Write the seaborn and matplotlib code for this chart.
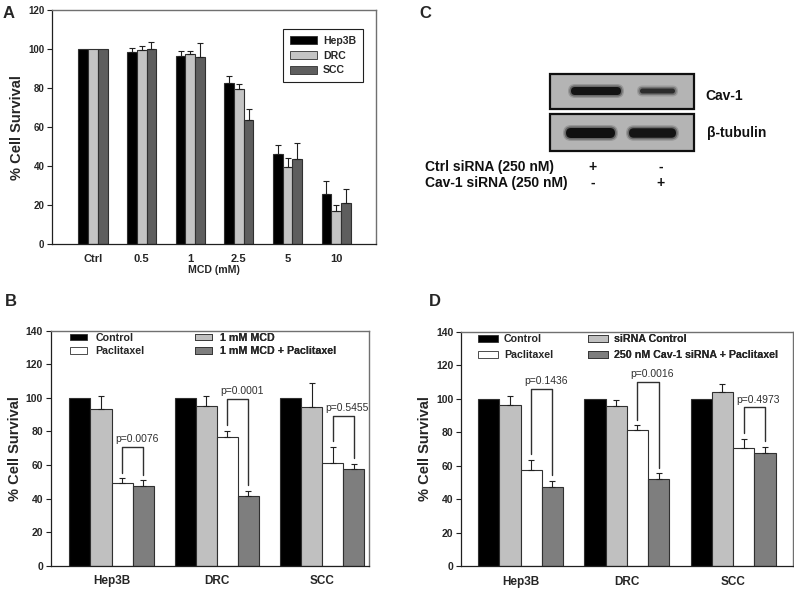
import matplotlib
matplotlib.use("Agg")
import matplotlib.pyplot as plt
from matplotlib.patches import Patch, Rectangle, FancyBboxPatch
import numpy as np
import pandas as pd
import seaborn as sns

# ---- panel A: MCD dose response ----
a_doses = ["Ctrl", "0.5", "1", "2.5", "5", "10"]
a_lines = ["Hep3B", "DRC", "SCC"]
a_hep3b = [100, 98.3, 96.5, 82.6, 46.0, 25.7]
a_hep3b_err = [0, 2.0, 2.6, 3.7, 4.7, 6.5]
a_drc = [100, 99.4, 97.5, 79.3, 39.6, 16.8]
a_drc_err = [0, 2.2, 1.4, 2.9, 4.7, 3.1]
a_scc = [100, 99.8, 95.8, 63.6, 43.9, 21.1]
a_scc_err = [0, 3.9, 7.5, 5.8, 7.9, 7.4]
a_colors = ["#000000", "#c4c4c4", "#5e5e5e"]

# ---- panel B: MCD + paclitaxel ----
b_groups = ["Hep3B", "DRC", "SCC"]
b_names = ["Control", "1 mM MCD", "Paclitaxel", "1 mM MCD + Paclitaxel"]
b_control = [100, 100, 100]
b_control_err = [0, 0, 0]
b_mcd = [93.1, 95.3, 94.7]
b_mcd_err = [8.2, 5.6, 14.4]
b_pac = [49.4, 76.6, 61.4]
b_pac_err = [2.6, 3.6, 9.6]
b_combo = [47.7, 41.5, 57.4]
b_combo_err = [3.1, 3.0, 3.4]
b_pvals = ["p=0.0076", "p=0.0001", "p=0.5455"]
b_bracket_top = [71.0, 99.3, 89.4]

# ---- panel D: Cav-1 siRNA + paclitaxel ----
d_names = ["Control", "siRNA Control", "Paclitaxel", "250 nM Cav-1 siRNA + Paclitaxel"]
d_control = [100, 100, 100]
d_control_err = [0, 0, 0]
d_sirna = [96.5, 95.9, 104.0]
d_sirna_err = [4.8, 3.4, 4.6]
d_pac = [57.1, 81.4, 70.6]
d_pac_err = [6.5, 2.6, 5.5]
d_combo = [47.1, 51.9, 67.7]
d_combo_err = [3.9, 3.4, 3.5]
d_pvals = ["p=0.1436", "p=0.0016", "p=0.4973"]
d_bracket_top = [105.8, 110.2, 94.8]

bd_colors = ["#000000", "#c0c0c0", "#ffffff", "#7e7e7e"]

sns.set_style("ticks")
plt.rcParams["font.family"] = ["Liberation Sans", "DejaVu Sans"]
plt.rcParams["font.weight"] = "bold"

W, H = 794, 589
fig = plt.figure(figsize=(W / 100, H / 100), dpi=100)


def px_axes(left, top, right, bottom):
    return fig.add_axes([left / W, 1 - bottom / H, (right - left) / W, (bottom - top) / H])


def long_frame(groups, names, values):
    rows = []
    for name, vals in zip(names, values):
        for g, v in zip(groups, vals):
            rows.append({"group": g, "treatment": name, "value": v})
    return pd.DataFrame(rows)


def draw_bars(ax, groups, names, values, errors, colors, width):
    df = long_frame(groups, names, values)
    sns.barplot(data=df, x="group", y="value", hue="treatment", order=groups,
                hue_order=names, palette=dict(zip(names, colors)), errorbar=None,
                width=width, edgecolor="#303030", linewidth=0.8, legend=False, ax=ax)
    for cont, errs in zip(ax.containers, errors):
        for bar, e in zip(cont, errs):
            if e <= 0:
                continue
            x = bar.get_x() + bar.get_width() / 2
            ax.errorbar([x], [bar.get_height()], yerr=[[0], [e]], fmt="none",
                        ecolor="#202020", elinewidth=0.8, capsize=2.3, capthick=0.8)


def style_axes(ax, ymax, xlim, ytick_size, xtick_size):
    ax.set_xlim(*xlim)
    ax.set_ylim(0, ymax)
    ax.set_yticks(range(0, ymax + 1, 20))
    ax.tick_params(axis="y", direction="out", length=3.5, width=0.8,
                   labelsize=ytick_size, pad=2, color="#202020")
    ax.tick_params(axis="x", length=0, labelsize=xtick_size, pad=7)
    ax.set_ylabel("% Cell Survival", fontsize=10.5, fontweight="bold", labelpad=3)
    ax.set_xlabel("")
    for side in ["left", "bottom"]:
        ax.spines[side].set_color("#202020")
        ax.spines[side].set_linewidth(0.9)
    for side in ["top", "right"]:
        ax.spines[side].set_visible(True)
        ax.spines[side].set_color("#707070")
        ax.spines[side].set_linewidth(1.0)


def draw_brackets(ax, pvals, tops, left_errs, right_errs, gap=3.5):
    left, right = ax.containers[2], ax.containers[3]
    for i, (p, top) in enumerate(zip(pvals, tops)):
        bl, br = left[i], right[i]
        xl = bl.get_x() + bl.get_width() / 2
        xr = br.get_x() + br.get_width() / 2
        yl = bl.get_height() + left_errs[i] + gap
        yr = br.get_height() + right_errs[i] + gap
        ax.plot([xl, xl, xr, xr], [yl, top, top, yr], color="#303030", lw=1.0)
        ax.text((xl + xr) / 2 + 0.04, top + 1.6, p, ha="center", va="bottom",
                fontsize=7.5, fontweight="normal", color="#303030")


def two_col_legend(ax, names, colors, anchors, size, hlen, hh, spacing, tpad):
    # names/colors listed column by column: two entries per column
    for col in range(2):
        idx = [2 * col, 2 * col + 1]
        handles = [Patch(facecolor=colors[k], edgecolor="#303030", linewidth=0.6) for k in idx]
        leg = ax.legend(handles, [names[k] for k in idx], loc="upper left",
                        bbox_to_anchor=anchors[col], frameon=False, borderpad=0,
                        borderaxespad=0, handlelength=hlen, handleheight=hh,
                        labelspacing=spacing, handletextpad=tpad,
                        prop={"weight": "bold", "size": size})
        ax.add_artist(leg)


# ---- A ----
axa = px_axes(52, 10, 376, 244.3)
draw_bars(axa, a_doses, a_lines, [a_hep3b, a_drc, a_scc],
          [a_hep3b_err, a_drc_err, a_scc_err], a_colors, 0.6)
style_axes(axa, 120, (-0.844, 5.82), 7, 8)
axa.set_xlabel("MCD (mM)", fontsize=7.6, fontweight="bold", labelpad=1)
a_handles = [Patch(facecolor=c, edgecolor="#303030", linewidth=0.6) for c in a_colors]
axa.legend(a_handles, a_lines, loc="upper left", bbox_to_anchor=(0.713, 0.919),
           frameon=True, fancybox=False, edgecolor="#202020", framealpha=1,
           borderpad=0.65, handlelength=2.6, handleheight=0.75, labelspacing=0.45,
           handletextpad=0.55, borderaxespad=0, prop={"weight": "bold", "size": 7.6})
axa.get_legend().get_frame().set_linewidth(0.8)

# ---- B ----
axb = px_axes(50.7, 330.7, 369.3, 565.7)
draw_bars(axb, b_groups, b_names, [b_control, b_mcd, b_pac, b_combo],
          [b_control_err, b_mcd_err, b_pac_err, b_combo_err], bd_colors, 0.8)
style_axes(axb, 140, (-0.578, 2.449), 7.5, 8.5)
draw_brackets(axb, b_pvals, b_bracket_top, b_pac_err, b_combo_err)
two_col_legend(axb, ["Control", "Paclitaxel", "1 mM MCD", "1 mM MCD + Paclitaxel"],
               [bd_colors[0], bd_colors[2], bd_colors[1], bd_colors[3]],
               [(0.061, 0.99), (0.453, 0.99)], 7.7, 1.6, 0.55, 0.3, 0.75)

# ---- D ----
axd = px_axes(461, 331.7, 792.5, 566)
draw_bars(axd, b_groups, d_names, [d_control, d_sirna, d_pac, d_combo],
          [d_control_err, d_sirna_err, d_pac_err, d_combo_err], bd_colors, 0.8)
style_axes(axd, 140, (-0.56, 2.56), 7.5, 8.5)
draw_brackets(axd, d_pvals, d_bracket_top, d_pac_err, d_combo_err)
two_col_legend(axd, ["Control", "Paclitaxel", "siRNA Control", "250 nM Cav-1 siRNA + Paclitaxel"],
               [bd_colors[0], bd_colors[2], bd_colors[1], bd_colors[3]],
               [(0.051, 0.99), (0.382, 0.99)], 7.7, 1.9, 0.65, 0.55, 0.55)

# ---- C: western blot ----
axc = px_axes(400, 0, 794, 280)
axc.set_xlim(400, 794)
axc.set_ylim(280, 0)
axc.axis("off")
for y0, y1 in [(74, 109), (114, 151)]:
    axc.add_patch(Rectangle((550, y0), 144, y1 - y0, facecolor="#b4b4b4",
                            edgecolor="#101010", lw=1.6))
# band: left, right, centre y, core thickness, colour
bands = [(571, 621, 91, 8, "#141414"), (640, 675, 91, 5, "#2c2c2c"),
         (566, 615, 133, 10, "#101010"), (629, 676, 133, 9.5, "#141414")]
for x0, x1, yc, h, c in bands:
    for pad, alpha in [(3.0, 0.18), (1.6, 0.35)]:
        axc.add_patch(FancyBboxPatch((x0, yc - h / 2), x1 - x0, h,
                                     boxstyle=f"round,pad={pad},rounding_size={h / 2 + pad}",
                                     fc=c, ec="none", alpha=alpha))
    axc.add_patch(FancyBboxPatch((x0, yc - h / 2), x1 - x0, h,
                                 boxstyle=f"round,pad=0,rounding_size={h / 2}",
                                 fc=c, ec="none"))
blot_kw = dict(fontsize=10, fontweight="bold", va="center", color="#101010")
axc.text(705, 96, "Cav-1", ha="left", **blot_kw)
axc.text(707, 133, "β-tubulin", ha="left", **blot_kw)
axc.text(425, 167, "Ctrl siRNA (250 nM)", ha="left", **blot_kw)
axc.text(425, 183, "Cav-1 siRNA (250 nM)", ha="left", **blot_kw)
for x, s1, s2 in [(593, "+", "-"), (661, "-", "+")]:
    axc.text(x, 167, s1, ha="center", **blot_kw)
    axc.text(x, 183, s2, ha="center", **blot_kw)

# ---- panel letters ----
for x, y, s in [(9, 13, "A"), (425, 13, "C"), (11, 302, "B"), (435, 302, "D")]:
    fig.text(x / W, 1 - y / H, s, fontsize=12, fontweight="bold", ha="center", va="center")

fig.savefig("out.png", dpi=100)
